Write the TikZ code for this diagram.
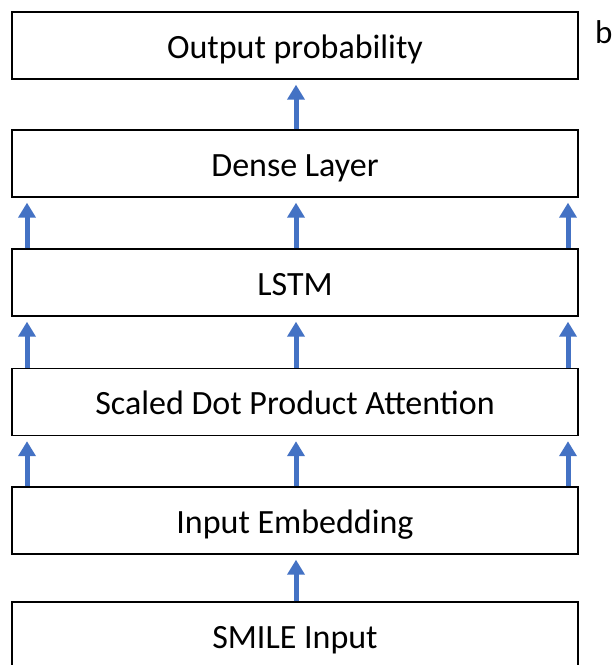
\documentclass[tikz,border=0pt]{standalone}
\usepackage{fontspec}
\setmainfont{Carlito}
\usetikzlibrary{arrows.meta}
\definecolor{arrblue}{HTML}{4472C4}
\tikzset{
  layer/.style={draw=black, line width=1.4pt, minimum width=566pt, minimum height=67pt, inner sep=0pt, text height=25pt, text depth=0pt, font=\fontsize{34pt}{40pt}\selectfont, fill=white},
  arr/.style={draw=arrblue, line width=5pt, -{Triangle[width=17pt,length=15pt]}, shorten >=5pt}
}
\begin{document}
\begin{tikzpicture}[x=1pt,y=-1pt]
\useasboundingbox (0,0) rectangle (613,665);
\node[layer] (out) at (295,45.5) {Output probability};
\node[layer] (dense) at (295,163.5) {Dense Layer};
\node[layer] (lstm) at (295,282.5) {LSTM};
\node[layer] (att) at (295,402) {Scaled Dot Product Attention};
\node[layer] (emb) at (295,520.5) {Input Embedding};
\node[layer] (smile) at (295,635.5) {SMILE Input};
\node[font=\fontsize{33pt}{40pt}\selectfont, anchor=base west, inner sep=0pt] (b) at (595,43) {b};
\coordinate (L) at (27,0);
\coordinate (M) at (296,0);
\coordinate (R) at (568,0);
\draw[arr] (dense.north -| M) -- (out.south -| M);
\foreach \c in {L,M,R}{
  \draw[arr] (lstm.north -| \c) -- (dense.south -| \c);
  \draw[arr] (att.north -| \c) -- (lstm.south -| \c);
  \draw[arr] (emb.north -| \c) -- (att.south -| \c);
}
\draw[arr] (smile.north -| M) -- (emb.south -| M);
\end{tikzpicture}
\end{document}
